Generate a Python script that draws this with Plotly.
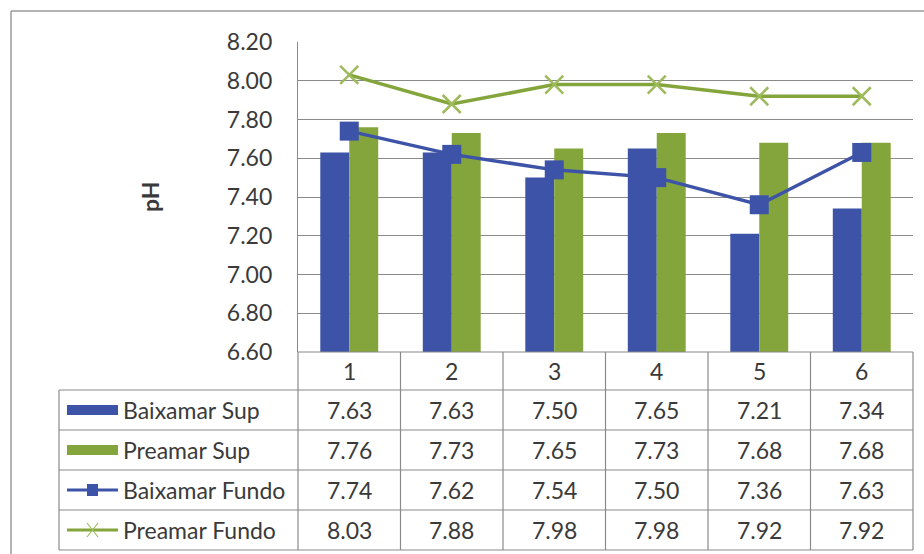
import plotly.graph_objects as go

# ---- data ----
categories = ["1", "2", "3", "4", "5", "6"]
series_names = ["Baixamar Sup", "Preamar Sup", "Baixamar Fundo", "Preamar Fundo"]
baixamar_sup = [7.63, 7.63, 7.50, 7.65, 7.21, 7.34]
preamar_sup = [7.76, 7.73, 7.65, 7.73, 7.68, 7.68]
baixamar_fundo = [7.74, 7.62, 7.54, 7.50, 7.36, 7.63]
preamar_fundo = [8.03, 7.88, 7.98, 7.98, 7.92, 7.92]
y_min, y_max, y_step = 6.60, 8.20, 0.20
y_title = "pH"

# ---- styling / layout ----
W, H = 924, 554
BLUE = "#3D53A8"
GREEN = "#84A53B"
GREEN_X = "#9DBB5C"
GRID = "#8A8A8A"
TXT = "#3A3A3A"
FONT = "Lato"
FS = 23

def px(x):
    return x / W

def py(y):
    return 1 - y / H

plot_l, plot_r, plot_t, plot_b = 298, 913, 42, 352
row_lines = [390, 430, 470, 510, 550]
table_l = 59
ncat = len(categories)
colw = (plot_r - plot_l) / ncat

fig = go.Figure()
fig.add_trace(go.Bar(x=categories, y=baixamar_sup, name=series_names[0],
                     marker=dict(color=BLUE, line=dict(width=0))))
fig.add_trace(go.Bar(x=categories, y=preamar_sup, name=series_names[1],
                     marker=dict(color=GREEN, line=dict(width=0))))
fig.add_trace(go.Scatter(x=categories, y=baixamar_fundo, name=series_names[2],
                         mode="lines+markers",
                         line=dict(color=BLUE, width=3.5),
                         marker=dict(symbol="square", size=19, color=BLUE)))
fig.add_trace(go.Scatter(x=categories, y=preamar_fundo, name=series_names[3],
                         mode="lines+markers",
                         line=dict(color=GREEN, width=3.5),
                         marker=dict(symbol="x-thin", size=18,
                                     line=dict(color=GREEN_X, width=2.5))))

shapes = []
def hline(y, x0, x1, color=GRID, w=1.2):
    shapes.append(dict(type="line", xref="paper", yref="paper",
                       x0=px(x0), x1=px(x1), y0=py(y), y1=py(y),
                       line=dict(color=color, width=w)))

def vline(x, y0, y1, color=GRID, w=1.2):
    shapes.append(dict(type="line", xref="paper", yref="paper",
                       x0=px(x), x1=px(x), y0=py(y0), y1=py(y1),
                       line=dict(color=color, width=w)))

# outer frame (top and left visible)
hline(11, 11, 924, "#9A9A9A", 1.5)
vline(11, 11, 554, "#9A9A9A", 1.5)

# table grid
hline(plot_b, plot_l, plot_r)
for y in row_lines:
    hline(y, table_l, plot_r)
vline(table_l, row_lines[0], row_lines[-1])
for k in range(ncat + 1):
    vline(plot_l + colw * k, plot_b, row_lines[-1])

annotations = []
# header categories
for k, c in enumerate(categories):
    annotations.append(dict(text=c, xref="paper", yref="paper",
                            x=px(plot_l + colw * (k + 0.5)),
                            y=py((plot_b + row_lines[0]) / 2),
                            showarrow=False, xanchor="center", yanchor="middle",
                            font=dict(family=FONT, size=FS, color=TXT)))

all_series = [baixamar_sup, preamar_sup, baixamar_fundo, preamar_fundo]
for r, (name, vals) in enumerate(zip(series_names, all_series)):
    yc = (row_lines[r] + row_lines[r + 1]) / 2
    annotations.append(dict(text=name, xref="paper", yref="paper",
                            x=px(121), y=py(yc), showarrow=False,
                            xanchor="left", yanchor="middle",
                            font=dict(family=FONT, size=FS, color=TXT)))
    for k, v in enumerate(vals):
        annotations.append(dict(text=f"{v:.2f}", xref="paper", yref="paper",
                                x=px(plot_l + colw * (k + 0.5)), y=py(yc),
                                showarrow=False, xanchor="center", yanchor="middle",
                                font=dict(family=FONT, size=FS, color=TXT)))
    # legend keys
    kx0, kx1 = 67, 118
    if r in (0, 1):
        col = BLUE if r == 0 else GREEN
        shapes.append(dict(type="rect", xref="paper", yref="paper",
                           x0=px(kx0), x1=px(kx1), y0=py(yc - 5), y1=py(yc + 5),
                           fillcolor=col, line=dict(width=0)))
    elif r == 2:
        hline(yc, kx0, kx1, BLUE, 3)
        shapes.append(dict(type="rect", xref="paper", yref="paper",
                           x0=px(87), x1=px(98), y0=py(yc - 6), y1=py(yc + 6),
                           fillcolor=BLUE, line=dict(width=0)))
    else:
        hline(yc, kx0, kx1, GREEN, 3)
        for (a, b) in [((87, yc - 7), (98, yc + 7)), ((87, yc + 7), (98, yc - 7))]:
            shapes.append(dict(type="line", xref="paper", yref="paper",
                               x0=px(a[0]), y0=py(a[1]), x1=px(b[0]), y1=py(b[1]),
                               line=dict(color=GREEN_X, width=1.2)))

# y title
annotations.append(dict(text=f"<b>{y_title}</b>", xref="paper", yref="paper",
                        x=px(150), y=py((plot_t + plot_b) / 2), showarrow=False,
                        textangle=-90, xanchor="center", yanchor="middle",
                        font=dict(family=FONT, size=FS, color=TXT)))

nticks = int(round((y_max - y_min) / y_step)) + 1
tickvals = [round(y_min + i * y_step, 2) for i in range(nticks)]

fig.update_layout(
    template="none",
    width=W, height=H,
    margin=dict(l=0, r=0, t=0, b=0, pad=0),
    paper_bgcolor="white", plot_bgcolor="white",
    showlegend=False,
    barmode="group", bargap=0.435, bargroupgap=0,
    shapes=shapes, annotations=annotations,
    xaxis=dict(domain=[px(plot_l), px(plot_r)], type="category",
               range=[-0.5, ncat - 0.5], showticklabels=False, automargin=False,
               showgrid=False, zeroline=False, showline=False, ticks="",
               fixedrange=True),
    yaxis=dict(domain=[py(plot_b), py(plot_t)], range=[y_min, y_max],
               tickvals=tickvals, ticktext=[f"{v:.2f}" for v in tickvals],
               automargin=False,
               showgrid=True, gridcolor=GRID, gridwidth=1.2,
               zeroline=False, showline=True, linecolor=GRID, linewidth=1.2,
               ticks="", ticklabelstandoff=20,
               tickfont=dict(family=FONT, size=FS, color=TXT)),
    font=dict(family=FONT, size=FS, color=TXT),
)

fig.write_html(
    "out.html",
    config={"displayModeBar": False},
    post_script="document.body.style.margin='0';document.body.style.padding='0';"
                "document.body.style.overflow='hidden';",
)
